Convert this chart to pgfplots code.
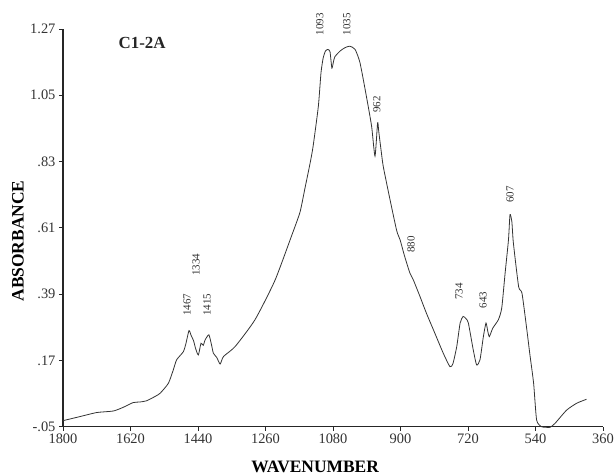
\documentclass[border=0pt]{standalone}
\usepackage{pgfplots}
\pgfplotsset{compat=1.18}
\usepackage{fontspec}
\setmainfont{Liberation Serif}
\begin{document}
\begin{tikzpicture}
\useasboundingbox (-63bp,-48.3bp) rectangle (553bp,426.7bp);
\begin{axis}[
  at={(0,0)}, anchor=south west,
  scale only axis, width=540bp, height=397.7bp,
  x dir=reverse,
  xmin=360, xmax=1800, ymin=-0.05, ymax=1.27,
  axis x line*=bottom, axis y line*=left,
  axis line style={line width=1.1bp, black!85},
  tick style={line width=0.9bp, black!85},
  tick align=outside, major tick length=4bp,
  xtick={360,540,720,900,1080,1260,1440,1620,1800},
  xticklabels={360,540,720,900,1080,1260,1440,1620,1800},
  ytick={-0.05,0.17,0.39,0.61,0.83,1.05,1.27},
  yticklabels={-.05,.17,.39,.61,.83,1.05,1.27},
  /pgf/number format/assume math mode=true,
  tick label style={font=\fontsize{14.5}{14.5}\selectfont, text=black!80},
  xlabel={WAVENUMBER},
  ylabel={ABSORBANCE},
  xlabel style={at={(axis description cs:0.467,0)}, anchor=north, yshift=-34bp, inner sep=0pt, font=\fontsize{17.5}{17.5}\selectfont\bfseries},
  ylabel style={at={(axis description cs:-0.0833,0.467)}, anchor=center, inner sep=0pt, font=\fontsize{17.5}{17.5}\selectfont\bfseries},
  clip=false,
]
\addplot[line width=0.8bp, black!80, smooth, tension=0.35] table {
x y
1800 -0.030
1760 -0.018
1710 -0.003
1666 0.002
1640 0.014
1613 0.030
1595 0.032
1577 0.036
1555 0.050
1541 0.061
1519 0.094
1506 0.138
1497 0.172
1479 0.199
1472 0.227
1464 0.269
1458 0.252
1452 0.236
1446 0.208
1439 0.188
1432 0.227
1426 0.220
1421 0.238
1411 0.255
1404 0.222
1399 0.194
1390 0.180
1381 0.158
1372 0.183
1341 0.216
1288 0.305
1235 0.435
1190 0.585
1168 0.662
1155 0.740
1141 0.825
1133 0.881
1119 1.014
1112 1.125
1106 1.175
1100 1.197
1094 1.202
1088 1.195
1083 1.140
1079 1.160
1075 1.178
1061 1.197
1048 1.208
1035 1.213
1021 1.202
1008 1.158
991 1.047
977 0.947
968 0.848
961 0.959
958 0.930
952 0.870
946 0.814
928 0.704
910 0.600
901 0.570
890 0.520
875 0.460
866 0.438
848 0.382
831 0.327
812 0.271
786 0.194
768 0.149
760 0.160
750 0.216
741 0.294
733 0.316
725 0.308
719 0.294
706 0.205
697 0.155
688 0.172
679 0.249
672 0.294
667 0.265
663 0.249
654 0.277
639 0.305
630 0.344
621 0.460
612 0.571
608 0.654
603 0.630
599 0.560
585 0.415
576 0.393
563 0.271
555 0.190
545 0.094
537 -0.028
524 -0.050
512 -0.052
501 -0.052
488 -0.039
457 0.005
430 0.028
404 0.041
};
\node[font=\fontsize{17}{17}\selectfont\bfseries, text=black!85] at (axis cs:1589,1.222) {C1-2A};
\begin{scope}[every node/.style={rotate=90, font=\fontsize{11}{11}\selectfont, text=black!80, inner sep=0pt}]
\node at (axis cs:1115,1.285) {1093};
\node at (axis cs:1043,1.285) {1035};
\node at (axis cs:963,1.019) {962};
\node at (axis cs:872,0.554) {880};
\node at (axis cs:744,0.398) {734};
\node at (axis cs:680,0.371) {643};
\node at (axis cs:608,0.720) {607};
\node at (axis cs:1469,0.355) {1467};
\node at (axis cs:1445,0.488) {1334};
\node at (axis cs:1416,0.355) {1415};
\end{scope}
\end{axis}
\end{tikzpicture}
\end{document}
